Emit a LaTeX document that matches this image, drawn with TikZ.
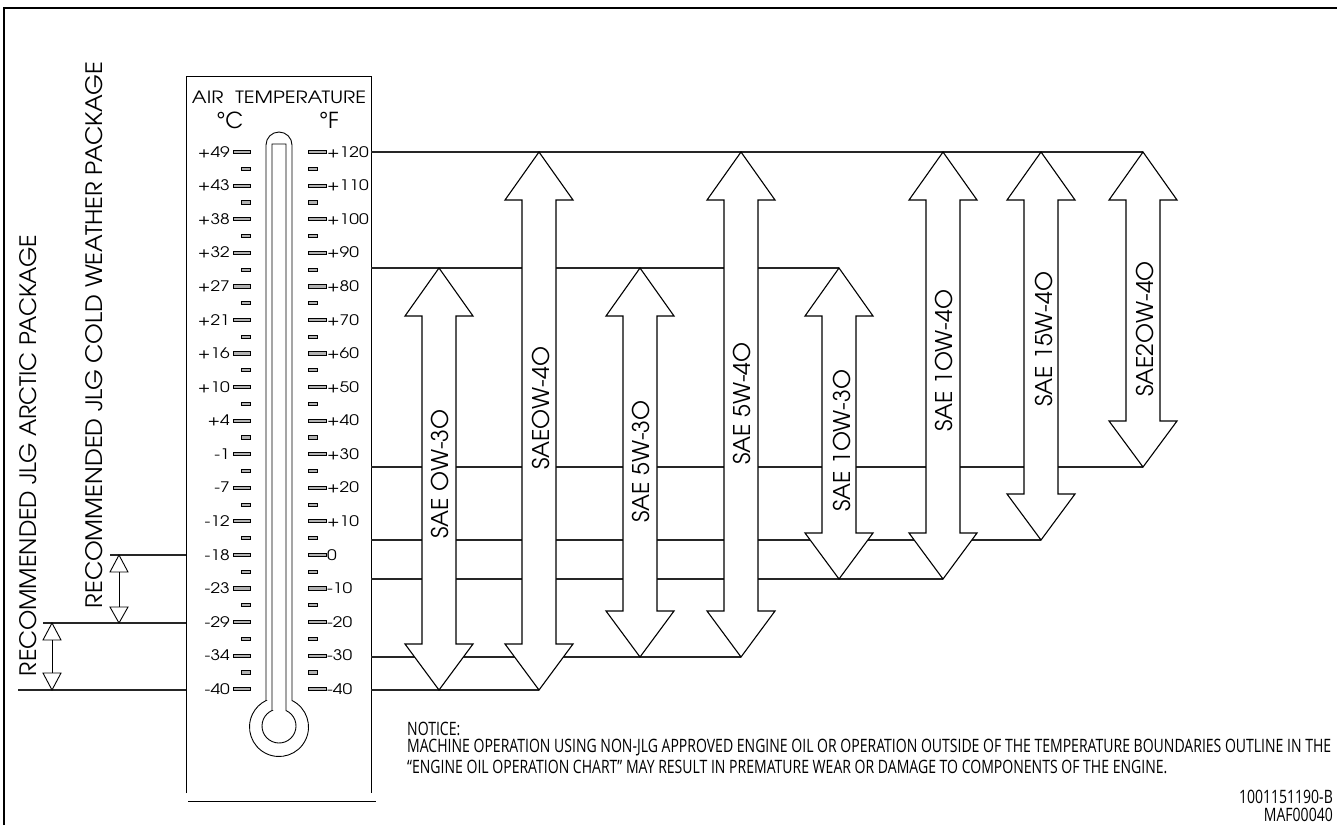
\documentclass[tikz,border=0pt]{standalone}
\usepackage{fontspec}
\newfontfamily\adv{texgyreadventor-regular.otf}
\newfontfamily\advw[FakeStretch=1.2]{texgyreadventor-regular.otf}
\newfontfamily\nfont[FakeStretch=0.76]{Open Sans}
\newlength\nwa
\begin{document}
\settowidth\nwa{\nfont\fontsize{14}{16}\selectfont MACHINE OPERATION USING NON-JLG APPROVED ENGINE OIL OR OPERATION OUTSIDE OF THE TEMPERATURE BOUNDARIES OUTLINE IN THE}
\pgfmathsetmacro\nsc{924/\nwa}
\begin{tikzpicture}[x=1pt,y=-1pt,
  frame/.style={line width=2.2pt,black},
  guide/.style={line width=1.2pt,black!85},
  thermo/.style={line width=0.9pt,black},
  oilar/.style={line width=1.1pt,black,fill=white,line join=miter},
  tick/.style={line width=0.6pt,draw=black,fill=black!30},
  scalelbl/.style={inner sep=0pt,font=\advw\fontsize{14.5}{14.5}\selectfont},
  oillbl/.style={inner sep=0pt,rotate=90,anchor=west,font=\adv\fontsize{23}{23}\selectfont},
  notice/.style={inner sep=0pt,anchor=west}]
\useasboundingbox (0,0) rectangle (1337,825);
% frame
\draw[frame] (4,825) -- (4,8) -- (1337,8);
% thermometer box
\draw[thermo] (186,793) -- (186,76) -- (371,76) -- (371,793);
\draw[thermo] (188,801) -- (376,801);
\node[inner sep=0pt] (airt) at (279,97) {\resizebox{174pt}{12.5pt}{\adv AIR\hspace{0.6em}TEMPERATURE}};
\node[inner sep=0pt,font=\adv\fontsize{22}{22}\selectfont] (degc) at (230,120) {°C};
\node[inner sep=0pt,font=\adv\fontsize{22}{22}\selectfont] (degf) at (329,120) {°F};
% tube
\draw[thermo] (266,700.5) -- (266,145) arc[start angle=180,end angle=360,radius=13] -- (292,700.5)
  arc[start angle=-63.9,end angle=243.9,radius=29.5] -- cycle;
\draw[thermo] (272,710.5) -- (272,144) -- (286,144) -- (286,710.5)
  arc[start angle=-65.7,end angle=245.7,radius=17] -- cycle;
% scales
\foreach \c [count=\i from 0] in {+49,+43,+38,+32,+27,+21,+16,+10,+4,-1,-7,-12,-18,-23,-29,-34,-40}{
  \pgfmathsetmacro\yy{152+\i*33.5625}
  \node[scalelbl,anchor=east] (c\i) at (230,\yy) {\c};
  \path[tick] (233,\yy-1.6) rectangle (250,\yy+1.6);
}
\foreach \f [count=\i from 0] in {+120,+110,+100,+90,+80,+70,+60,+50,+40,+30,+20,+10,0,-10,-20,-30,-40}{
  \pgfmathsetmacro\yy{152+\i*33.5625}
  \node[scalelbl,anchor=west] (f\i) at (327,\yy) {\f};
  \path[tick] (308,\yy-1.6) rectangle (326,\yy+1.6);
}
\foreach \i in {0,...,15}{
  \pgfmathsetmacro\yy{152+(\i+0.5)*33.5625}
  \path[tick] (241,\yy-1.6) rectangle (250,\yy+1.6);
  \path[tick] (308,\yy-1.6) rectangle (317,\yy+1.6);
}
% left package ranges
\draw[guide] (110,555) -- (186,555);
\draw[guide] (43,623) -- (186,623);
\draw[guide] (18,690) -- (186,690);
\draw[thermo,fill=white] (119,555) -- (128,572) -- (110,572) -- cycle;
\draw[thermo,fill=white] (119,623) -- (128,607) -- (110,607) -- cycle;
\draw[thermo] (119,572) -- (119,607);
\draw[thermo,fill=white] (52,623) -- (61,640) -- (43,640) -- cycle;
\draw[thermo,fill=white] (52,690) -- (61,673) -- (43,673) -- cycle;
\draw[thermo] (52,640) -- (52,673);
\node[inner sep=0pt,rotate=90] (arctic) at (28,455.5) {\resizebox{441pt}{17pt}{\adv RECOMMENDED JLG ARCTIC PACKAGE}};
\node[inner sep=0pt,rotate=90] (cold) at (94,335) {\resizebox{546pt}{17pt}{\adv RECOMMENDED JLG COLD WEATHER PACKAGE}};
% temperature guide lines
\draw[guide] (371,152) -- (1143,152);
\draw[guide] (371,268) -- (839,268);
\draw[guide] (371,467) -- (1143,467);
\draw[guide] (371,540) -- (1041,540);
\draw[guide] (371,579) -- (943,579);
\draw[guide] (371,657) -- (741,657);
\draw[guide] (371,690) -- (539,690);
% oil arrows
\newcommand\oilarrow[3]{%
  \draw[oilar] (#1,#2) -- (#1+34,#2+48) -- (#1+17,#2+48) -- (#1+17,#3-46) -- (#1+34,#3-46) -- (#1,#3)
   -- (#1-34,#3-46) -- (#1-17,#3-46) -- (#1-17,#2+48) -- (#1-34,#2+48) -- cycle;}
\oilarrow{439}{268}{690}
\oilarrow{539}{152}{690}
\oilarrow{640}{268}{657}
\oilarrow{741}{152}{657}
\oilarrow{839}{268}{579}
\oilarrow{943}{152}{579}
\oilarrow{1041}{152}{540}
\oilarrow{1143}{152}{467}
\node[oillbl] (o1) at (440,539) {SAE OW-3O};
\node[oillbl] (o2) at (541,470) {SAEOW-4O};
\node[oillbl] (o3) at (641,523) {SAE 5W-3O};
\node[oillbl] (o4) at (742,465) {SAE 5W-4O};
\node[oillbl] (o5) at (842,512) {SAE 1OW-3O};
\node[oillbl] (o6) at (944,432) {SAE 1OW-4O};
\node[oillbl] (o7) at (1044,407) {SAE 15W-4O};
\node[oillbl] (o8) at (1145,397) {SAE2OW-4O};
% notice
\node[notice] (n1) at (407,729) {\scalebox{\nsc}{\nfont\fontsize{14}{16}\selectfont NOTICE:}};
\node[notice] (n2) at (407,748) {\scalebox{\nsc}{\nfont\fontsize{14}{16}\selectfont MACHINE OPERATION USING NON-JLG APPROVED ENGINE OIL OR OPERATION OUTSIDE OF THE TEMPERATURE BOUNDARIES OUTLINE IN THE}};
\node[notice] (n3) at (407,767) {\scalebox{\nsc}{\nfont\fontsize{14}{16}\selectfont “ENGINE OIL OPERATION CHART” MAY RESULT IN PREMATURE WEAR OR DAMAGE TO COMPONENTS OF THE ENGINE.}};
\node[inner sep=0pt,anchor=east] (id1) at (1333,797) {\scalebox{\nsc}{\nfont\fontsize{14}{16}\selectfont 1001151190-B}};
\node[inner sep=0pt,anchor=east] (id2) at (1333,815) {\scalebox{\nsc}{\nfont\fontsize{14}{16}\selectfont MAF00040}};
\end{tikzpicture}
\end{document}
